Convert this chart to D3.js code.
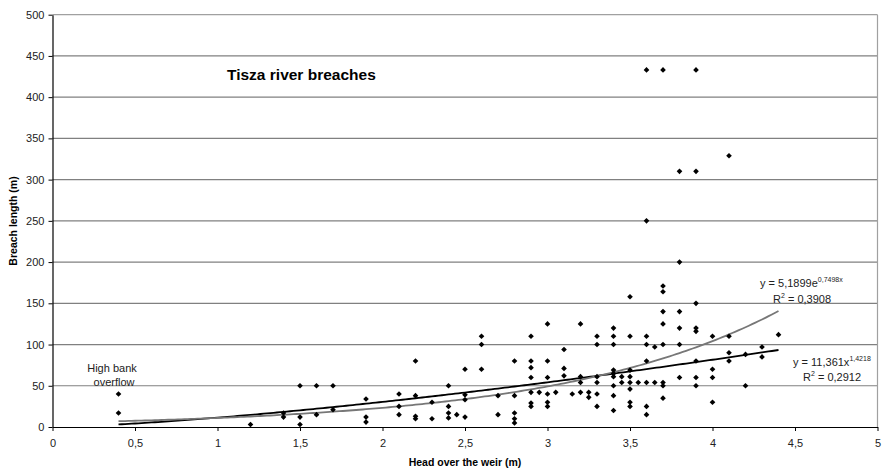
<!DOCTYPE html>
<html><head><meta charset="utf-8">
<script src="https://cdn.jsdelivr.net/npm/d3@7"></script>
<style>body{margin:0;background:#fff}svg{display:block;font-family:"Liberation Sans",Arial,sans-serif}</style>
</head><body><svg id="c" width="882" height="469"></svg>
<script>
// Head over the weir (m)
const headX = [
 0.4,0.4, 1.2, 1.4,1.4, 1.5,1.5,1.5, 1.6,1.6, 1.7,1.7, 1.9,1.9,1.9, 2.1,2.1,2.1,
 2.2,2.2,2.2,2.2, 2.3,2.3, 2.4,2.4,2.4,2.4, 2.45,
 2.5,2.5,2.5,2.5, 2.6,2.6,2.6, 2.7,2.7, 2.8,2.8,2.8,2.8,2.8,
 2.9,2.9,2.9,2.9,2.9,2.9,2.9, 2.95, 3.0,3.0,3.0,3.0,3.0,3.0, 3.05,
 3.1,3.1,3.1, 3.15, 3.2,3.2,3.2,3.2, 3.25,3.25,
 3.3,3.3,3.3,3.3,3.3,3.3, 3.4,3.4,3.4,3.4,3.4,3.4,3.4,3.4,3.4, 3.45,3.45,
 3.5,3.5,3.5,3.5,3.5,3.5,3.5,3.5, 3.55,
 3.6,3.6,3.6,3.6,3.6,3.6,3.6,3.6, 3.65,3.65,
 3.7,3.7,3.7,3.7,3.7,3.7,3.7,3.7,3.7,
 3.8,3.8,3.8,3.8,3.8,3.8,
 3.9,3.9,3.9,3.9,3.9,3.9,3.9,3.9,
 4.0,4.0,4.0,4.0, 4.1,4.1,4.1,4.1, 4.2,4.2, 4.3,4.3, 4.4
];
// Breach length (m)
const breachY = [
 40,17, 3, 17,12, 50,12,3, 50,15, 50,21, 34,12,6, 40,25,15,
 80,38,13,10, 30,10, 50,25,17,11, 15,
 70,39,33,12, 110,100,70, 38,15, 80,38,17,10,5,
 110,80,72,60,42,29,25, 42, 125,80,60,40,30,25, 42,
 94,71,62, 40, 125,61,54,42, 42,36,
 110,100,61,54,40,25, 120,110,100,69,65,61,50,38,20, 61,54,
 158,110,69,61,54,46,30,25, 54,
 433,250,110,100,80,54,25,15, 97,54,
 433,171,164,140,125,100,54,50,35,
 310,200,140,120,100,60,
 433,310,150,120,116,80,60,50,
 110,70,60,30, 329,110,90,80, 88,50, 97,85, 112
];
const xTicks = [0,0.5,1,1.5,2,2.5,3,3.5,4,4.5,5];
const yTicks = [0,50,100,150,200,250,300,350,400,450,500];
// Trendline coefficients as printed on the chart
const expA = 5.1899, expB = 0.7498;   // y = a e^(bx)
const powA = 11.361, powB = 1.4218;   // y = a x^b
const trendRange = [0.4, 4.4];

const svg = d3.select("#c");
const L = 52.5, R = 877.5, T = 14.7, B = 427;
const x = d3.scaleLinear().domain([0,5]).range([L,R]);
const y = d3.scaleLinear().domain([0,500]).range([B,T]);
const fmt = d => String(d).replace(".", ",");

// gridlines
svg.append("g").selectAll("line").data(yTicks.filter(d=>d>0)).join("line")
  .attr("x1",L).attr("x2",R).attr("y1",d=>y(d)).attr("y2",d=>y(d))
  .attr("stroke",d=>d===500?"#a0a0a0":"#808080").attr("stroke-width",1.2);
// right border
svg.append("line").attr("x1",R).attr("x2",R).attr("y1",T).attr("y2",B)
  .attr("stroke","#a0a0a0").attr("stroke-width",1.2);

// axes
const ax = svg.append("g").attr("transform",`translate(0,${B})`)
  .call(d3.axisBottom(x).tickValues(xTicks).tickFormat(fmt).tickSize(4).tickSizeOuter(0));
const ay = svg.append("g").attr("transform",`translate(${L},0)`)
  .call(d3.axisLeft(y).tickValues(yTicks).tickSize(4).tickSizeOuter(0));
[ax,ay].forEach(a=>{
  a.select(".domain").attr("stroke","#000").attr("stroke-width",1.2);
  a.selectAll(".tick line").attr("stroke","#000");
  a.selectAll("text").attr("font-family","'Liberation Sans',Arial,sans-serif")
   .attr("font-size",11).attr("fill","#222");
});
ax.selectAll("text").attr("dy","1.15em");
ay.selectAll("text").attr("dx","-0.1em");

// trendlines
const xs = d3.range(trendRange[0], trendRange[1]+1e-9, 0.02);
const line = d3.line().x(d=>x(d[0])).y(d=>y(d[1]));
svg.append("path").datum(xs.map(v=>[v, powA*Math.pow(v,powB)]))
  .attr("d",line).attr("fill","none").attr("stroke","#000").attr("stroke-width",1.8);
svg.append("path").datum(xs.map(v=>[v, expA*Math.exp(expB*v)]))
  .attr("d",line).attr("fill","none").attr("stroke","#777").attr("stroke-width",1.8);

// points
const sym = d3.symbol().type(d3.symbolSquare).size(16);
svg.append("g").selectAll("path").data(headX.map((v,i)=>[v,breachY[i]])).join("path")
  .attr("d",sym)
  .attr("transform",d=>`translate(${x(d[0])},${y(d[1])}) rotate(45)`)
  .attr("fill","#000");

// texts
svg.append("text").attr("x",227).attr("y",80).attr("font-size",15.5).attr("font-weight","bold")
  .attr("fill","#000").text("Tisza river breaches");
svg.append("text").attr("x",112).attr("y",372).attr("text-anchor","middle").attr("font-size",11).attr("fill","#222").text("High bank");
svg.append("text").attr("x",114).attr("y",385.5).attr("text-anchor","middle").attr("font-size",11).attr("fill","#222").text("overflow");

function eq(xp, yp, base, sup, tail){
  const t = svg.append("text").attr("x",xp).attr("y",yp).attr("font-size",11).attr("fill","#222");
  t.append("tspan").text(base);
  t.append("tspan").attr("font-size",7).attr("dy",-5).text(sup);
  if(tail!==undefined) t.append("tspan").attr("dy",5).text(tail);
}
eq(760, 287, "y = 5,1899e", "0,7498x");
eq(773, 303, "R", "2", " = 0,3908");
eq(793, 366, "y = 11,361x", "1,4218");
eq(803, 381, "R", "2", " = 0,2912");

// axis titles
svg.append("text").attr("x",465).attr("y",466).attr("text-anchor","middle").attr("font-size",10.5)
  .attr("font-weight","bold").attr("fill","#000").text("Head over the weir (m)");
svg.append("text").attr("transform","translate(17,221) rotate(-90)").attr("text-anchor","middle")
  .attr("font-size",10.5).attr("font-weight","bold").attr("fill","#000").text("Breach length (m)");
</script></body></html>
